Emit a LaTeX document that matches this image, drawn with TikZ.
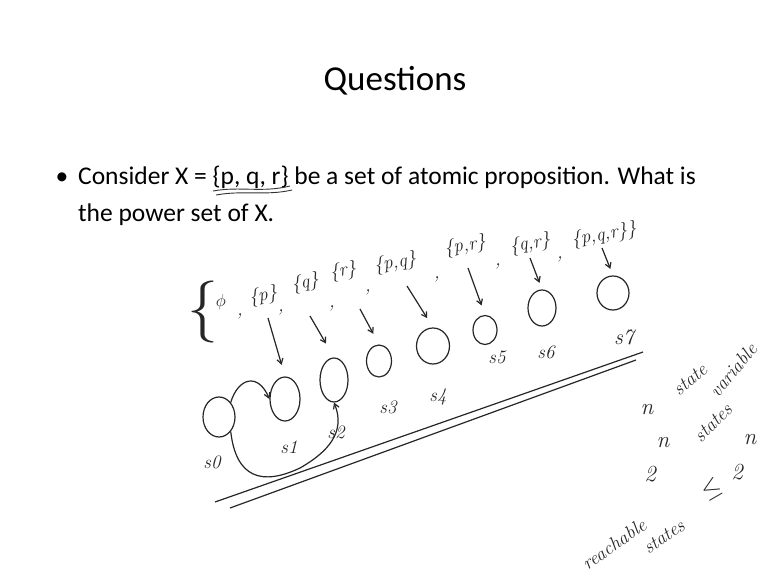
\documentclass[tikz,border=0pt]{standalone}
\usepackage{fontspec}
\setmainfont{Carlito}
\newfontfamily\hand{Latin Modern Roman}
\usetikzlibrary{shapes.geometric,arrows.meta}
\begin{document}
\begin{tikzpicture}[x=1pt,y=-1pt,
  ink/.style={line width=1.2pt,black!85},
  st/.style={ellipse,draw,line width=1.2pt,black!85,inner sep=0pt},
  hw/.style={font=\hand\itshape\fontsize{19}{19}\selectfont,inner sep=0pt,black!85},
  big/.style={font=\hand\itshape\fontsize{23}{23}\selectfont},
  harrow/.style={ink,-{Straight Barb[length=5pt,width=6pt]}},
  slide/.style={font=\fontsize{25.5}{30}\selectfont,inner sep=0pt,anchor=base west}]
\useasboundingbox (0,0) rectangle (768,576);
\fill[white] (0,0) rectangle (768,576);
% slide text
\node[font=\fontsize{35}{40}\selectfont,inner sep=0pt,anchor=base] (title) at (395,90) {Questions};
\node[font=\fontsize{25.5}{30}\selectfont,inner sep=0pt,anchor=base] (bul) at (62,184) {•};
\node[slide] (l1) at (78,184) {Consider X = \{p, q, r\} be a set of atomic proposition. What is};
\node[slide] (l2) at (78,221) {the power set of X.};
% wavy underline
\draw[line width=0.9pt,black!80] (213,191) .. controls (240,186) and (262,193) .. (290,186);
\draw[line width=0.9pt,black!80] (216,195) .. controls (244,190) and (266,196) .. (292,190);
% power set handwriting
\node[hw,font=\hand\fontsize{62}{62}\selectfont] (brace) at (203,312) {\{};
\node[hw] (phi) at (221,302) {$\phi$};
\node[hw] (k1) at (240,316) {,};
\node[hw,rotate=10] (sp) at (263,296) {\{p\}};
\node[hw] (k2) at (281,312) {,};
\node[hw,rotate=10] (sq) at (305,283) {\{q\}};
\node[hw] (k3) at (332,308) {,};
\node[hw,rotate=10] (sr) at (343,271) {\{r\}};
\node[hw] (k4) at (368,292) {,};
\node[hw,rotate=10] (spq) at (395,263) {\{p,q\}};
\node[hw] (k5) at (437,279) {,};
\node[hw,rotate=10] (spr) at (465,246) {\{p,r\}};
\node[hw] (k6) at (498,266) {,};
\node[hw,rotate=10] (sqr) at (530,244) {\{q,r\}};
\node[hw] (k7) at (560,259) {,};
\node[hw,rotate=10] (spqr) at (604,235) {\{p,q,r\}\}};
% states
\node[st,minimum width=32pt,minimum height=40pt] (c0) at (219,417) {};
\node[st,minimum width=30pt,minimum height=44pt] (c1) at (285,399) {};
\node[st,minimum width=28pt,minimum height=44pt] (c2) at (334,380) {};
\node[st,minimum width=25pt,minimum height=32pt] (c3) at (379,361) {};
\node[st,minimum width=33pt,minimum height=36pt] (c4) at (433,346) {};
\node[st,minimum width=24pt,minimum height=29pt] (c5) at (485,330) {};
\node[st,minimum width=28pt,minimum height=36pt] (c6) at (542,308) {};
\node[st,minimum width=32pt,minimum height=34pt] (c7) at (613,293) {};
% state labels
\node[hw] (n0) at (212,462) {s0};
\node[hw] (n1) at (289,447) {s1};
\node[hw] (n2) at (336,432) {s2};
\node[hw] (n3) at (388,407) {s3};
\node[hw] (n4) at (438,397) {s4};
\node[hw] (n5) at (497,357) {s5};
\node[hw] (n6) at (546,352) {s6};
\node[hw,font=\hand\itshape\fontsize{22}{22}\selectfont] (n7) at (624,337) {s7};
% arrows from sets to states
\coordinate (a1) at (268,318); \coordinate (a2) at (310,316);
\coordinate (a3) at (360,309); \coordinate (a4) at (407,286);
\coordinate (a5) at (468,268); \coordinate (a6) at (530,258);
\coordinate (a7) at (602,248);
\draw[harrow,shorten >=12pt] (a1) -- (c1.north);
\draw[harrow,shorten >=16pt] (a2) -- (c2.north);
\draw[harrow,shorten >=12pt] (a3) -- (c3.north);
\draw[harrow,shorten >=11pt] (a4) -- (c4.north);
\draw[harrow,shorten >=10pt] (a5) -- (c5.north);
\draw[harrow,shorten >=7pt] (a6) -- (c6.north);
\draw[harrow,shorten >=7pt] (a7) -- (c7.north);
% transitions
\draw[harrow] (c0.north east) .. controls (238,378) and (258,372) .. (c1.west);
\draw[harrow] (c0.south east) .. controls (236,478) and (262,486) .. (300,468)
  .. controls (328,452) and (346,432) .. (c2.south);
% double line
\coordinate (la) at (215,502); \coordinate (lb) at (643,352);
\coordinate (lc) at (230,508); \coordinate (ld) at (636,360);
\draw[ink] (la) -- (lb);
\draw[ink] (lc) -- (ld);
% right side notes
\node[hw,big] (nn) at (647,410) {n};
\node[hw,rotate=40] (state) at (690,380) {state};
\node[hw,rotate=50] (variable) at (733,370) {variable};
\node[hw,big] (two) at (650,474) {2};
\node[hw,big] (nexp) at (663,443) {n};
\node[hw,rotate=45] (states1) at (713,423) {states};
\node[hw,font=\fontsize{28}{28}\selectfont,rotate=30] (leq) at (712,489) {$\leq$};
\node[hw,big] (two2) at (737,472) {2};
\node[hw,big] (nexp2) at (750,440) {n};
\node[hw,rotate=35] (reach) at (614,544) {reachable};
\node[hw,rotate=35] (states2) at (664,537) {states};
\end{tikzpicture}
\end{document}
